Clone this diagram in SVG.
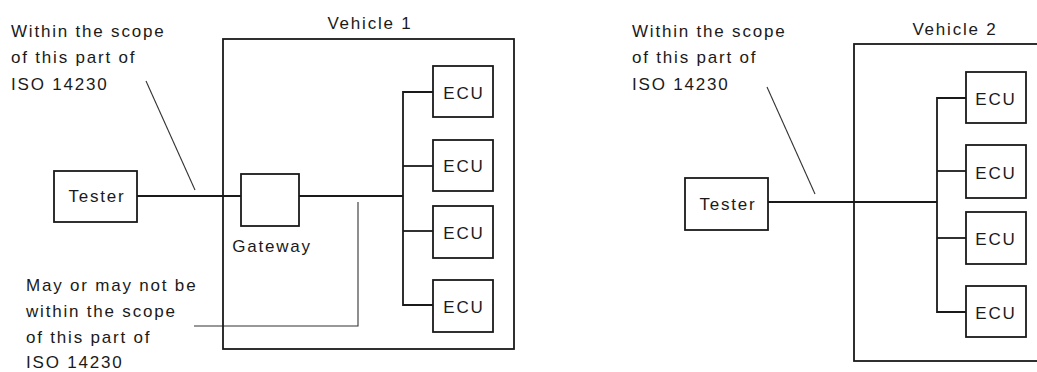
<svg xmlns="http://www.w3.org/2000/svg" width="1037" height="372" viewBox="0 0 1037 372">
  <style>
    .box { fill: #ffffff; stroke: #1a1a1a; stroke-width: 1.8; }
    .frame { fill: none; stroke: #1a1a1a; stroke-width: 1.8; }
    .wire { fill: none; stroke: #1a1a1a; stroke-width: 1.8; }
    .leader { fill: none; stroke: #333333; stroke-width: 1.1; }
    text { font-family: "Liberation Sans", Arial, sans-serif; font-size: 17px; fill: #1a1a1a; letter-spacing: 1.8px; }
    .mid { text-anchor: middle; }
  </style>

  <!-- Connectors: bus lines and leader lines -->
  <g id="connectors">
    <!-- Vehicle 1 wiring -->
    <line class="wire" x1="137" y1="196" x2="241" y2="196"/>
    <line class="wire" x1="299" y1="196" x2="403" y2="196"/>
    <polyline class="wire" points="433,92 403,92 403,305 433,305"/>
    <line class="wire" x1="403" y1="166" x2="433" y2="166"/>
    <line class="wire" x1="403" y1="231" x2="433" y2="231"/>
    <!-- Vehicle 1 leaders -->
    <line class="leader" x1="146" y1="81" x2="195" y2="190"/>
    <polyline class="leader" points="358,202 358,326 194,326"/>

    <!-- Vehicle 2 wiring -->
    <line class="wire" x1="768" y1="202" x2="937" y2="202"/>
    <polyline class="wire" points="966,98 937,98 937,312 966,312"/>
    <line class="wire" x1="937" y1="171" x2="966" y2="171"/>
    <line class="wire" x1="937" y1="238" x2="966" y2="238"/>
    <!-- Vehicle 2 leader -->
    <line class="leader" x1="767" y1="87" x2="815" y2="194"/>
  </g>

  <!-- Vehicle 1 -->
  <g id="vehicle1">
    <rect class="frame" x="223" y="39" width="291" height="310"/>
    <text class="mid" x="370" y="29">Vehicle 1</text>
  </g>
  <g id="tester1">
    <rect class="box" x="54" y="171" width="83" height="51"/>
    <text class="mid" x="97" y="202">Tester</text>
  </g>
  <g id="gateway">
    <rect class="box" x="241" y="174" width="58" height="52"/>
    <text class="mid" x="272" y="252">Gateway</text>
  </g>
  <g id="ecu1a">
    <rect class="box" x="433" y="66" width="60" height="51"/>
    <text class="mid" x="464" y="99">ECU</text>
  </g>
  <g id="ecu1b">
    <rect class="box" x="433" y="140" width="60" height="51"/>
    <text class="mid" x="464" y="172">ECU</text>
  </g>
  <g id="ecu1c">
    <rect class="box" x="433" y="206" width="60" height="52"/>
    <text class="mid" x="464" y="239">ECU</text>
  </g>
  <g id="ecu1d">
    <rect class="box" x="433" y="280" width="60" height="52"/>
    <text class="mid" x="464" y="313">ECU</text>
  </g>
  <g id="note1">
    <text x="11" y="37">Within the scope</text>
    <text x="11" y="63">of this part of</text>
    <text x="11" y="90">ISO 14230</text>
  </g>
  <g id="note2">
    <text x="26" y="291">May or may not be</text>
    <text x="26" y="317">within the scope</text>
    <text x="26" y="343">of this part of</text>
    <text x="26" y="368">ISO 14230</text>
  </g>

  <!-- Vehicle 2 -->
  <g id="vehicle2">
    <rect class="frame" x="854" y="44" width="200" height="317"/>
    <text class="mid" x="955" y="35">Vehicle 2</text>
  </g>
  <g id="tester2">
    <rect class="box" x="685" y="178" width="83" height="52"/>
    <text class="mid" x="728" y="210">Tester</text>
  </g>
  <g id="ecu2a">
    <rect class="box" x="966" y="72" width="60" height="51"/>
    <text class="mid" x="996" y="105">ECU</text>
  </g>
  <g id="ecu2b">
    <rect class="box" x="966" y="145" width="60" height="53"/>
    <text class="mid" x="996" y="179">ECU</text>
  </g>
  <g id="ecu2c">
    <rect class="box" x="966" y="212" width="60" height="52"/>
    <text class="mid" x="996" y="245">ECU</text>
  </g>
  <g id="ecu2d">
    <rect class="box" x="966" y="286" width="60" height="51"/>
    <text class="mid" x="996" y="319">ECU</text>
  </g>
  <g id="note3">
    <text x="632" y="37">Within the scope</text>
    <text x="632" y="63">of this part of</text>
    <text x="632" y="90">ISO 14230</text>
  </g>
</svg>
